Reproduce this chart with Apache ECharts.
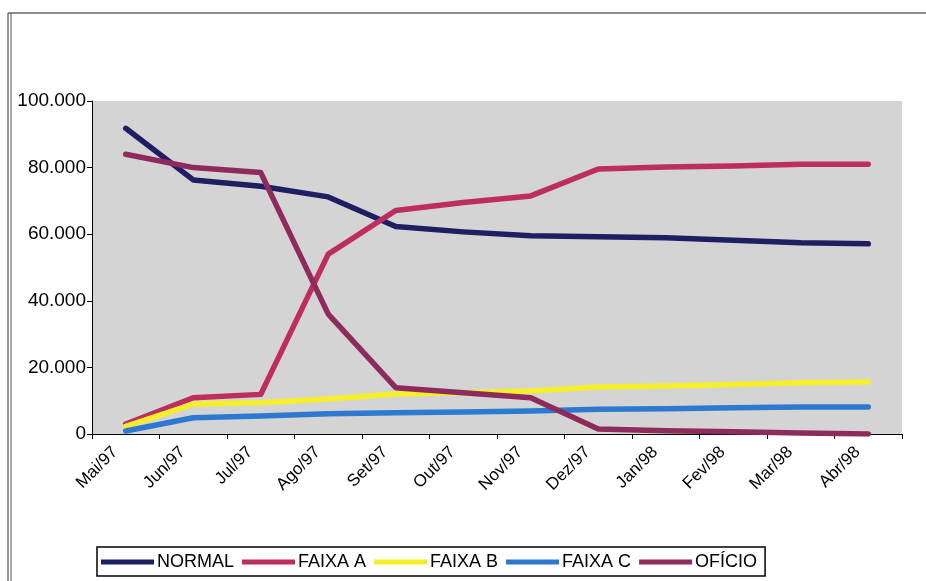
<!DOCTYPE html>
<html><head><meta charset="utf-8">
<script src="https://cdn.jsdelivr.net/npm/echarts@6/dist/echarts.min.js"></script>
<style>html,body{margin:0;padding:0;background:#fff}#c{width:926px;height:581px}</style>
</head><body><div id="c"></div>
<script>
const categories = ['Mai/97','Jun/97','Jul/97','Ago/97','Set/97','Out/97','Nov/97','Dez/97','Jan/98','Fev/98','Mar/98','Abr/98'];
const normal  = [91800, 76300, 74400, 71200, 62300, 60700, 59500, 59200, 58900, 58200, 57400, 57100];
const faixaA  = [3000, 10900, 11900, 54000, 67100, 69500, 71500, 79600, 80200, 80500, 81000, 81000];
const faixaB  = [2300, 9000, 9400, 10500, 12000, 12400, 12900, 14100, 14400, 14900, 15400, 15600];
const faixaC  = [900, 4900, 5400, 6100, 6400, 6600, 6900, 7400, 7600, 7900, 8100, 8100];
const oficio  = [84000, 80000, 78500, 36000, 13900, 12400, 10900, 1500, 1000, 700, 300, 0];
const yTicks = [0, 20000, 40000, 60000, 80000, 100000];

const fmt = v => String(v).replace(/\B(?=(\d{3})+(?!\d))/g, '.');
const mk = (name, data, color) => ({
  name, type: 'line', data, symbol: 'none', color,
  lineStyle: { width: 5.5, color, cap: 'round', join: 'round' }
});
const chart = echarts.init(document.getElementById('c'), null, { renderer: 'canvas' });
chart.setOption({
  animation: false,
  backgroundColor: '#ffffff',
  textStyle: { fontFamily: 'Liberation Sans, Arial, sans-serif' },
  grid: { left: 92, right: 24, top: 101, bottom: 147, show: true, backgroundColor: '#d4d4d4', borderWidth: 0 },
  graphic: [
    { type: 'line', shape: { x1: 8, y1: 13, x2: 8, y2: 581 }, style: { stroke: '#333', lineWidth: 1 } },
    { type: 'line', shape: { x1: 11, y1: 13, x2: 11, y2: 581 }, style: { stroke: '#555', lineWidth: 1 } },
    { type: 'line', shape: { x1: 8, y1: 13, x2: 926, y2: 13 }, style: { stroke: '#222', lineWidth: 1.2 } }
  ],
  legend: {
    left: 97, top: 547, height: 31,
    padding: [6, 8, 5, 4],
    borderColor: '#000', borderWidth: 1.5, backgroundColor: '#fff',
    itemGap: 8, itemWidth: 53, itemHeight: 5,
    icon: 'rect',
    textStyle: { fontSize: 18, color: '#000', padding: [0, 0, 0, -2] },
    data: ['NORMAL', 'FAIXA A', 'FAIXA B', 'FAIXA C', 'OFÍCIO']
  },
  xAxis: {
    type: 'category', data: categories, boundaryGap: true,
    axisLine: { lineStyle: { color: '#000', width: 1 } },
    axisTick: { show: true, length: 5, lineStyle: { color: '#000' } },
    axisLabel: { rotate: 45, fontSize: 17, color: '#000', margin: 5, padding: [0, 15, 0, 0] },
    splitLine: { show: false }
  },
  yAxis: {
    type: 'value', min: 0, max: 100000, interval: 20000,
    axisLine: { show: true, lineStyle: { color: '#000', width: 1 } },
    axisTick: { show: true, length: 5, lineStyle: { color: '#000' } },
    axisLabel: { fontSize: 19, color: '#000', margin: 6, formatter: v => yTicks.includes(v) ? fmt(v) : '' },
    splitLine: { show: false }
  },
  series: [
    mk('NORMAL', normal, '#1e1e63'),
    mk('FAIXA A', faixaA, '#bd2d5e'),
    mk('FAIXA B', faixaB, '#f4ef2a'),
    mk('FAIXA C', faixaC, '#2c79cf'),
    mk('OFÍCIO', oficio, '#8f2b5c')
  ]
});
</script></body></html>
